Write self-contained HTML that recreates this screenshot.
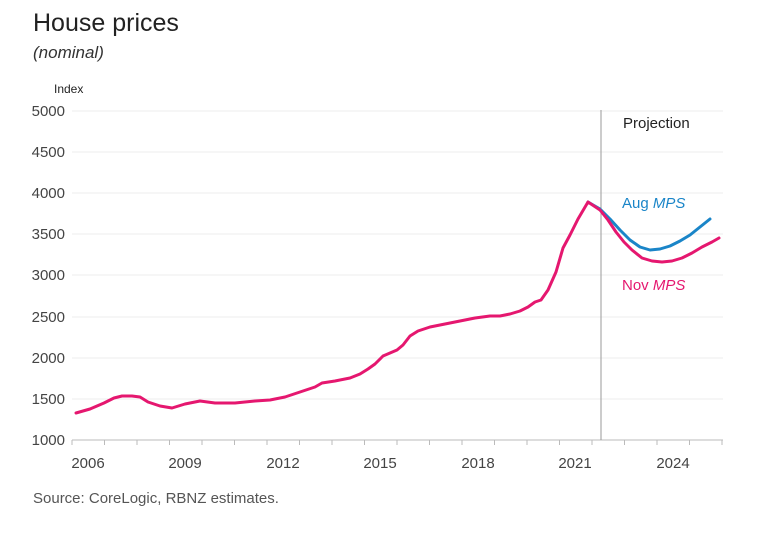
<!DOCTYPE html>
<html><head><style>
body{margin:0;background:#fff;width:771px;height:529px;overflow:hidden;font-family:"Liberation Sans",sans-serif}
</style></head><body>
<svg width="771" height="529" xmlns="http://www.w3.org/2000/svg" font-family="Liberation Sans, sans-serif">
<text x="33" y="31" font-size="25" fill="#222">House prices</text>
<text x="33" y="58" font-size="17" font-style="italic" fill="#333">(nominal)</text>
<text x="54" y="93" font-size="12" fill="#222">Index</text>
<g stroke="#eeeeee" stroke-width="1">
<line x1="72" x2="723" y1="111" y2="111"/><line x1="72" x2="723" y1="152" y2="152"/>
<line x1="72" x2="723" y1="193" y2="193"/><line x1="72" x2="723" y1="234" y2="234"/>
<line x1="72" x2="723" y1="275" y2="275"/><line x1="72" x2="723" y1="317" y2="317"/>
<line x1="72" x2="723" y1="358" y2="358"/><line x1="72" x2="723" y1="399" y2="399"/>
</g>
<g font-size="15" fill="#444" text-anchor="end">
<text x="65" y="116">5000</text><text x="65" y="157">4500</text><text x="65" y="198">4000</text>
<text x="65" y="239">3500</text><text x="65" y="280">3000</text><text x="65" y="322">2500</text>
<text x="65" y="363">2000</text><text x="65" y="404">1500</text><text x="65" y="445">1000</text>
</g>
<line x1="72" x2="723" y1="440" y2="440" stroke="#bbb"/>
<g stroke="#bbb">
<line x1="72" x2="72" y1="440" y2="445"/><line x1="104.5" x2="104.5" y1="440" y2="445"/><line x1="137" x2="137" y1="440" y2="445"/><line x1="169.5" x2="169.5" y1="440" y2="445"/><line x1="202" x2="202" y1="440" y2="445"/><line x1="234.5" x2="234.5" y1="440" y2="445"/><line x1="267" x2="267" y1="440" y2="445"/><line x1="299.5" x2="299.5" y1="440" y2="445"/><line x1="332" x2="332" y1="440" y2="445"/><line x1="364.5" x2="364.5" y1="440" y2="445"/><line x1="397" x2="397" y1="440" y2="445"/><line x1="429.5" x2="429.5" y1="440" y2="445"/><line x1="462" x2="462" y1="440" y2="445"/><line x1="494.5" x2="494.5" y1="440" y2="445"/><line x1="527" x2="527" y1="440" y2="445"/><line x1="559.5" x2="559.5" y1="440" y2="445"/><line x1="592" x2="592" y1="440" y2="445"/><line x1="624.5" x2="624.5" y1="440" y2="445"/><line x1="657" x2="657" y1="440" y2="445"/><line x1="689.5" x2="689.5" y1="440" y2="445"/><line x1="722" x2="722" y1="440" y2="445"/>
</g>
<g font-size="15" fill="#444" text-anchor="middle">
<text x="88" y="468">2006</text><text x="185" y="468">2009</text><text x="283" y="468">2012</text>
<text x="380" y="468">2015</text><text x="478" y="468">2018</text><text x="575" y="468">2021</text><text x="673" y="468">2024</text>
</g>
<line x1="601" x2="601" y1="110" y2="440" stroke="#999" stroke-width="1"/>
<text x="623" y="128" font-size="15" fill="#222">Projection</text>
<polyline fill="none" stroke="#1a85c8" stroke-width="3" stroke-linejoin="round" stroke-linecap="round" points="588,202 600,209 610,219 620,230 630,240 640,247 650,250 660,249 670,246 680,241 690,235 700,227 710,219"/>
<polyline fill="none" stroke="#e5176f" stroke-width="3" stroke-linejoin="round" stroke-linecap="round" points="76,413 90,409 104,403 114,398 122,396 132,396 140,397 148,402 160,406 172,408 185,404 200,401 215,403 235,403 255,401 270,400 285,397 300,392 315,387 322,383 335,381 350,378 360,374 368,369 375,364 383,356 390,353 397,350 403,345 410,336 418,331 430,327 445,324 460,321 475,318 490,316 500,316 510,314 520,311 528,307 535,302 541,300 548,290 556,272 563,248 570,235 578,219 588,202 600,210 608,220 616,232 624,242 632,250 642,258 652,261 662,262 672,261 682,258 692,253 702,247 712,242 719,238"/>
<text x="622" y="208" font-size="15" fill="#1a85c8">Aug <tspan font-style="italic">MPS</tspan></text>
<text x="622" y="290" font-size="15" fill="#e5176f">Nov <tspan font-style="italic">MPS</tspan></text>
<text x="33" y="503" font-size="15" fill="#555">Source: CoreLogic, RBNZ estimates.</text>
</svg>
</body></html>
